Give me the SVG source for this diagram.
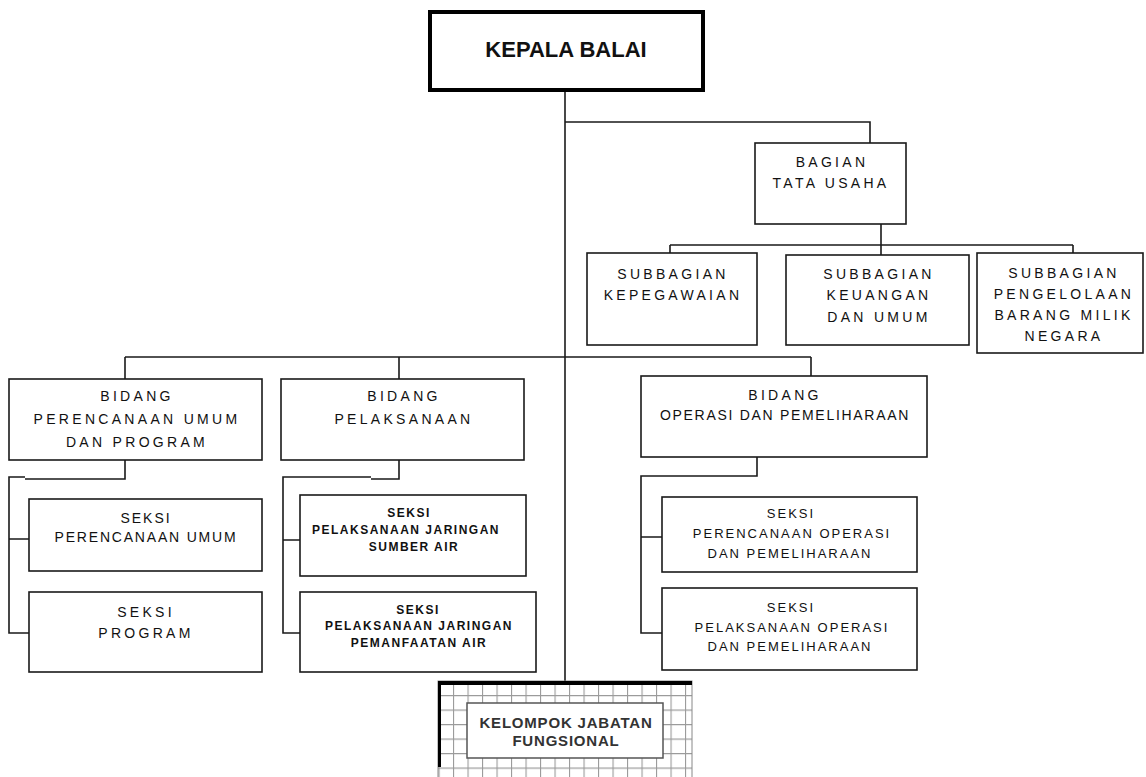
<svg xmlns="http://www.w3.org/2000/svg" width="1146" height="777" viewBox="0 0 1146 777">
<defs>
<pattern id="grid" x="438.5" y="680.5" width="14.5" height="14.5" patternUnits="userSpaceOnUse">
<path d="M0.5 0 V14.5 M0 0.5 H14.5" stroke="#9a9a9a" stroke-width="1.2" fill="none"/>
</pattern>
<style>
.box{fill:#fff;stroke:#1a1a1a;stroke-width:1.6}
.con{fill:none;stroke:#1a1a1a;stroke-width:1.6}
.t{font-family:"Liberation Sans",Arial,sans-serif;font-size:14px;fill:#111;text-anchor:middle;letter-spacing:3.3px}
.s{font-family:"Liberation Sans",Arial,sans-serif;font-size:12px;font-weight:bold;fill:#111;text-anchor:middle;letter-spacing:1.5px}
.m{font-family:"Liberation Sans",Arial,sans-serif;font-size:13px;fill:#111;text-anchor:middle;letter-spacing:2px}
</style>
</defs>
<rect width="1146" height="777" fill="#fff"/>
<g id="connectors">
<path class="con" d="M565 92 V681"/>
<path class="con" d="M565 122 H870 V143"/>
<path class="con" d="M881 224 V255 M670 245 H1073 M670 245 V253 M1073 245 V253"/>
<path class="con" d="M125 357 H811 M125 357 V379 M399 357 V379 M811 357 V376"/>
<path class="con" d="M125 460 V479 H25 M25 477 H9 V633 H29 M9 539 H29"/>
<path class="con" d="M399 460 V479 H371 M371 477 H283 V633 H300 M283 540 H300"/>
<path class="con" d="M757 457 V476 H641 V633 H662 M641 537 H662"/>
</g>
<g id="kepala-balai">
<rect x="430" y="12" width="273" height="78" fill="#fff" stroke="#000" stroke-width="4"/>
<text x="566" y="57" font-family="'Liberation Sans',Arial,sans-serif" font-size="22" font-weight="bold" fill="#111" text-anchor="middle">KEPALA BALAI</text>
</g>
<g id="bagian-tata-usaha">
<rect class="box" x="755" y="143" width="151" height="81"/>
<text class="t" x="832" y="167">BAGIAN</text>
<text class="t" x="831" y="188">TATA USAHA</text>
</g>
<g id="subbagian-kepegawaian">
<rect class="box" x="587" y="253" width="170" height="92"/>
<text class="t" x="673" y="279">SUBBAGIAN</text>
<text class="t" x="673" y="300">KEPEGAWAIAN</text>
</g>
<g id="subbagian-keuangan">
<rect class="box" x="786" y="255" width="183" height="90"/>
<text class="t" x="879" y="279">SUBBAGIAN</text>
<text class="t" x="879" y="300">KEUANGAN</text>
<text class="t" x="879" y="322">DAN UMUM</text>
</g>
<g id="subbagian-pengelolaan">
<rect class="box" x="977" y="253" width="166" height="100"/>
<text class="t" x="1064" y="278">SUBBAGIAN</text>
<text class="t" x="1064" y="299">PENGELOLAAN</text>
<text class="t" x="1064" y="320">BARANG MILIK</text>
<text class="t" x="1064" y="341">NEGARA</text>
</g>
<g id="bidang-perencanaan">
<rect class="box" x="9" y="379" width="253" height="81"/>
<text class="t" x="137" y="401">BIDANG</text>
<text class="t" x="137" y="424">PERENCANAAN UMUM</text>
<text class="t" x="137" y="447">DAN PROGRAM</text>
</g>
<g id="bidang-pelaksanaan">
<rect class="box" x="281" y="379" width="243" height="81"/>
<text class="t" x="404" y="401">BIDANG</text>
<text class="t" x="404" y="424">PELAKSANAAN</text>
</g>
<g id="bidang-operasi">
<rect class="box" x="641" y="376" width="286" height="81"/>
<text class="t" x="785" y="400">BIDANG</text>
<text class="t" x="785" y="420" style="letter-spacing:1.7px">OPERASI DAN PEMELIHARAAN</text>
</g>
<g id="seksi-perencanaan-umum">
<rect class="box" x="29" y="499" width="233" height="72"/>
<text class="t" x="146" y="523" style="letter-spacing:2px">SEKSI</text>
<text class="t" x="146" y="542" style="letter-spacing:1.8px">PERENCANAAN UMUM</text>
</g>
<g id="seksi-program">
<rect class="box" x="29" y="592" width="233" height="80"/>
<text class="t" x="146" y="617">SEKSI</text>
<text class="t" x="146" y="638">PROGRAM</text>
</g>
<g id="seksi-sumber-air">
<rect class="box" x="300" y="495" width="226" height="81"/>
<text class="s" x="409" y="517">SEKSI</text>
<text class="s" x="406" y="534">PELAKSANAAN JARINGAN</text>
<text class="s" x="414" y="551">SUMBER AIR</text>
</g>
<g id="seksi-pemanfaatan-air">
<rect class="box" x="300" y="592" width="236" height="80"/>
<text class="s" x="418" y="614">SEKSI</text>
<text class="s" x="419" y="630">PELAKSANAAN JARINGAN</text>
<text class="s" x="419" y="647">PEMANFAATAN AIR</text>
</g>
<g id="seksi-perencanaan-operasi">
<rect class="box" x="662" y="497" width="255" height="75"/>
<text class="m" x="791" y="518">SEKSI</text>
<text class="m" x="792" y="538">PERENCANAAN OPERASI</text>
<text class="m" x="790" y="558">DAN PEMELIHARAAN</text>
</g>
<g id="seksi-pelaksanaan-operasi">
<rect class="box" x="662" y="588" width="255" height="82"/>
<text class="m" x="791" y="612">SEKSI</text>
<text class="m" x="792" y="632">PELAKSANAAN OPERASI</text>
<text class="m" x="790" y="651">DAN PEMELIHARAAN</text>
</g>
<g id="kelompok-jabatan-fungsional">
<rect x="438" y="681" width="254" height="100" fill="#fff"/>
<rect x="438" y="681" width="254" height="100" fill="url(#grid)" stroke="#888" stroke-width="1"/>
<path d="M438 683 H692" stroke="#000" stroke-width="4"/>
<path d="M439.5 681 V767" stroke="#000" stroke-width="3"/>
<rect x="467" y="703" width="196" height="55" fill="#fff" stroke="#555" stroke-width="1.5"/>
<text x="566" y="728" font-family="'Liberation Sans',Arial,sans-serif" font-size="15" font-weight="bold" fill="#333" text-anchor="middle" letter-spacing="0.8">KELOMPOK JABATAN</text>
<text x="566" y="746" font-family="'Liberation Sans',Arial,sans-serif" font-size="15" font-weight="bold" fill="#333" text-anchor="middle" letter-spacing="0.8">FUNGSIONAL</text>
</g>
</svg>
